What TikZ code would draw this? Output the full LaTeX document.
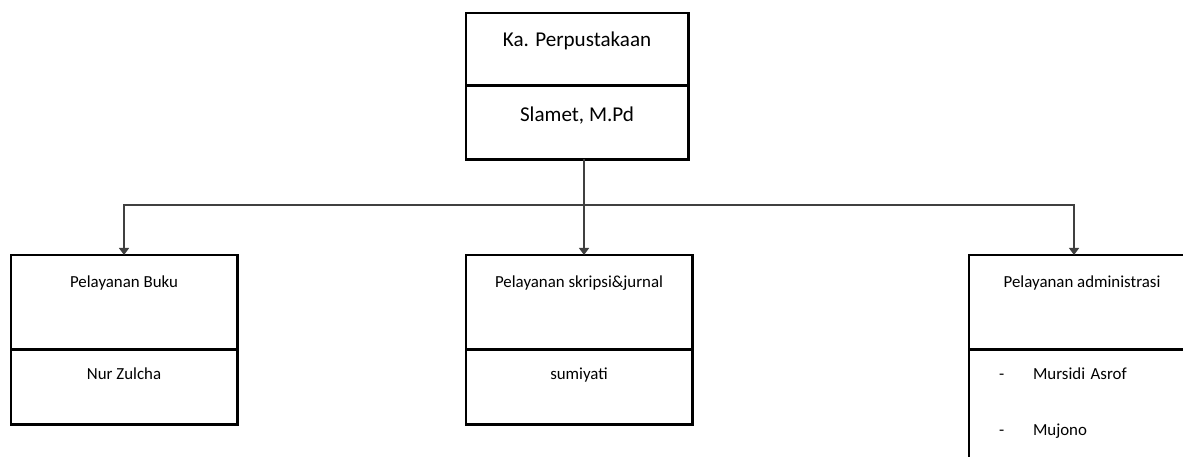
\documentclass[tikz,border=0pt]{standalone}
\usepackage{fontspec}
\setmainfont{Carlito}
\usetikzlibrary{positioning,arrows.meta}
\begin{document}
\begin{tikzpicture}[x=0.025cm,y=-0.025cm,
	kotak/.style={draw,line width=2.1pt,outer sep=0pt,inner sep=0pt,minimum width=5.65cm,anchor=north west},
	judul/.style={kotak,font=\fontsize{12}{14}\selectfont,text height=0.8cm,text depth=1.55cm},
	nama/.style={kotak,font=\fontsize{12}{14}\selectfont,text height=0.75cm,text depth=1.125cm},
	garis/.style={draw=black!75,line width=1.5pt,-{Triangle[width=7pt,length=5pt]}}]
	\clip (0,0) rectangle (1183,456);
	% kepala
	\node[kotak,minimum width=5.55cm,font=\fontsize{15}{18}\selectfont,text height=0.825cm,text depth=0.975cm] (ka) at (466,13) {Ka. Perpustakaan};
	\node[kotak,minimum width=5.55cm,font=\fontsize{15}{18}\selectfont,text height=0.9cm,text depth=0.95cm,below=0pt of ka] (slamet) {Slamet, M.Pd};
	\coordinate (pusat) at ([xshift=0.175cm]slamet.south);
	% bagian
	\node[judul] (buku) at (11,255) {Pelayanan Buku};
	\node[nama,below=0pt of buku] (zulcha) {Nur Zulcha};
	\node[judul] (skripsi) at (466,255) {Pelayanan skripsi\&jurnal};
	\node[nama,below=0pt of skripsi] (sumiyati) {sumiyati};
	\node[judul] (admin) at (969,255) {Pelayanan administrasi};
	\node[kotak,below=0pt of admin,font=\fontsize{12}{40.5}\selectfont,text width=5.65cm,align=left,text height=0.75cm,text depth=3cm] (staf)
		{\hspace*{0.75cm}\makebox[0.85cm][l]{-}Mursidi Asrof\\\hspace*{0.75cm}\makebox[0.85cm][l]{-}Mujono};
	% garis
	\draw[garis] (pusat) -- (pusat |- skripsi.north);
	\draw[garis] (pusat) -- ++(0,46) -| (buku.north);
	\draw[garis] (pusat) -- ++(0,46) -| ([xshift=-0.2cm]admin.north);
\end{tikzpicture}
\end{document}
